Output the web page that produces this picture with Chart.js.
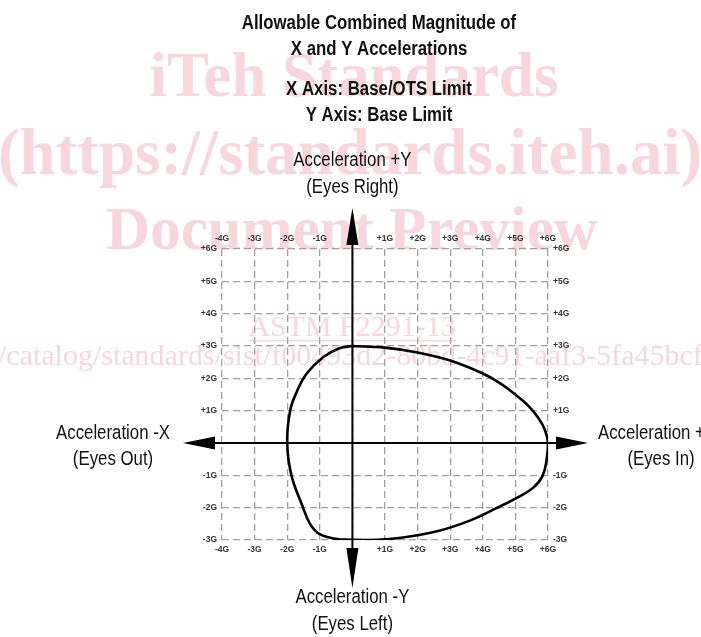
<!DOCTYPE html>
<html>
<head>
<meta charset="utf-8">
<script src="https://cdn.jsdelivr.net/npm/chart.js@4.4.0/dist/chart.umd.min.js"></script>
<style>
html,body{margin:0;padding:0;background:#fff}
</style>
</head>
<body>
<canvas id="chart1" width="701" height="637"></canvas>
<script>
// titles and axis captions
var titleLines = ['Allowable Combined Magnitude of', 'X and Y Accelerations', 'X Axis: Base/OTS Limit', 'Y Axis: Base Limit']
var axisCaptions = {
  top: ['Acceleration +Y', '(Eyes Right)'],
  bottom: ['Acceleration -Y', '(Eyes Left)'],
  left: ['Acceleration -X', '(Eyes Out)'],
  right: ['Acceleration +X', '(Eyes In)']
}
var watermark = ['iTeh Standards', '(https://standards.iteh.ai)', 'Document Preview', 'ASTM F2291-13',
  '/catalog/standards/sist/f00493d2-80bd-4c91-aaf3-5fa45bcf6e3c/astm-f2291-13']

// tick labels (G)
var xTickValues = [-4, -3, -2, -1, 0, 1, 2, 3, 4, 5, 6]
var xTickLabels = ['-4G', '-3G', '-2G', '-1G', '', '+1G', '+2G', '+3G', '+4G', '+5G', '+6G']
var yTickValues = [-3, -2, -1, 0, 1, 2, 3, 4, 5, 6]
var yTickLabels = ['-3G', '-2G', '-1G', '', '+1G', '+2G', '+3G', '+4G', '+5G', '+6G']

// limit envelope, clockwise from the top
var limitX = [0, 1, 2, 3, 4, 4.5, 5, 5.4, 5.7, 5.9, 6.0, 5.96, 5.84, 5.55, 5.0, 4.45, 3.6, 2.6, 1.5, 0.5, -0.4, -1.0, -1.3, -1.55, -1.87, -2.0, -1.91, -1.7, -1.4, -0.9, -0.4, 0]
var limitY = [3.0, 2.95, 2.8, 2.55, 2.15, 1.87, 1.5, 1.15, 0.78, 0.42, 0, -0.5, -1.0, -1.38, -1.72, -2.0, -2.4, -2.73, -2.93, -3.0, -2.98, -2.82, -2.5, -1.9, -1.0, 0, 1.0, 1.6, 2.15, 2.65, 2.93, 3.0]

var points = limitX.map(function (v, i) { return {x: v, y: limitY[i]} })

function tickLabel(values, labels) {
  return function (value) {
    var i = values.indexOf(value)
    return i < 0 ? '' : labels[i]
  }
}

var narrow = 'Liberation Sans, Arial, sans-serif'

function drawLine(ctx, text, x, y, font, scaleX) {
  ctx.save()
  ctx.translate(x, y)
  ctx.scale(scaleX, 1)
  ctx.font = font
  ctx.textAlign = 'center'
  ctx.textBaseline = 'middle'
  ctx.fillText(text, 0, 0)
  ctx.restore()
}

const background = {
  id: 'background',
  beforeDraw(chart) {
    const ctx = chart.ctx
    ctx.save()
    ctx.fillStyle = '#fff'
    ctx.fillRect(0, 0, chart.width, chart.height)
    ctx.fillStyle = '#f7d6de'
    ctx.textBaseline = 'alphabetic'
    ctx.textAlign = 'center'
    ctx.font = 'bold 63px "Liberation Serif", serif'
    ctx.fillText(watermark[0], 354, 96)
    ctx.font = 'bold 65px "Liberation Serif", serif'
    ctx.fillText(watermark[1], 350, 174)
    ctx.font = 'bold 61px "Liberation Serif", serif'
    ctx.fillText(watermark[2], 352, 249)
    ctx.font = '30px "Liberation Serif", serif'
    ctx.fillText(watermark[3], 352, 336)
    var w = ctx.measureText(watermark[3]).width
    ctx.fillRect(352 - w / 2, 340, w, 1.5)
    ctx.textAlign = 'left'
    ctx.fillText(watermark[4], -2, 365)
    ctx.restore()
  }
}

const axesArrows = {
  id: 'axesArrows',
  afterDatasetsDraw(chart) {
    const {ctx, chartArea, scales} = chart
    const x0 = scales.x.getPixelForValue(0)
    const y0 = scales.y.getPixelForValue(0)
    ctx.save()
    ctx.strokeStyle = '#000'
    ctx.fillStyle = '#000'
    ctx.lineWidth = 2
    // horizontal axis
    ctx.beginPath()
    ctx.moveTo(chartArea.left - 10, y0)
    ctx.lineTo(chartArea.right + 10, y0)
    ctx.stroke()
    // vertical axis
    ctx.beginPath()
    ctx.moveTo(x0, chartArea.top - 6)
    ctx.lineTo(x0, chartArea.bottom + 10)
    ctx.stroke()
    // arrow heads
    ctx.beginPath()
    ctx.moveTo(chartArea.left - 39, y0)
    ctx.lineTo(chartArea.left - 7, y0 - 6.5)
    ctx.lineTo(chartArea.left - 7, y0 + 6.5)
    ctx.closePath()
    ctx.fill()
    ctx.beginPath()
    ctx.moveTo(chartArea.right + 40, y0)
    ctx.lineTo(chartArea.right + 8, y0 - 6.5)
    ctx.lineTo(chartArea.right + 8, y0 + 6.5)
    ctx.closePath()
    ctx.fill()
    ctx.beginPath()
    ctx.moveTo(x0, chartArea.top - 41)
    ctx.lineTo(x0 - 6, chartArea.top - 4)
    ctx.lineTo(x0 + 6, chartArea.top - 4)
    ctx.closePath()
    ctx.fill()
    ctx.beginPath()
    ctx.moveTo(x0, chartArea.bottom + 48)
    ctx.lineTo(x0 - 6, chartArea.bottom + 8)
    ctx.lineTo(x0 + 6, chartArea.bottom + 8)
    ctx.closePath()
    ctx.fill()
    ctx.restore()
  },
  afterDraw(chart) {
    const {ctx, chartArea, scales} = chart
    const x0 = scales.x.getPixelForValue(0)
    const y0 = scales.y.getPixelForValue(0)
    ctx.save()
    ctx.fillStyle = '#111'
    var bold = 'bold 20px ' + narrow
    drawLine(ctx, titleLines[0], 379, 23, bold, 0.84)
    drawLine(ctx, titleLines[1], 379, 49, bold, 0.84)
    drawLine(ctx, titleLines[2], 379, 89, bold, 0.84)
    drawLine(ctx, titleLines[3], 379, 115, bold, 0.84)
    var reg = '20px ' + narrow
    drawLine(ctx, axisCaptions.top[0], x0, chartArea.top - 89, reg, 0.84)
    drawLine(ctx, axisCaptions.top[1], x0, chartArea.top - 62, reg, 0.84)
    drawLine(ctx, axisCaptions.bottom[0], x0, chartArea.bottom + 57, reg, 0.84)
    drawLine(ctx, axisCaptions.bottom[1], x0, chartArea.bottom + 84, reg, 0.84)
    drawLine(ctx, axisCaptions.left[0], 113, y0 - 10, reg, 0.84)
    drawLine(ctx, axisCaptions.left[1], 113, y0 + 16, reg, 0.84)
    drawLine(ctx, axisCaptions.right[0], 657, y0 - 10, reg, 0.84)
    drawLine(ctx, axisCaptions.right[1], 661, y0 + 16, reg, 0.84)
    ctx.restore()
  }
}

const tickFont = {size: 8.5, family: narrow, weight: 'bold'}
const gridOpts = {color: '#a0a0a0', lineWidth: 1.3, drawTicks: false}
const borderOpts = {display: false, dash: [7, 4]}

new Chart('chart1', {
  type: 'scatter',
  data: {
    datasets: [{
      data: points,
      showLine: true,
      borderColor: '#000',
      borderWidth: 2.6,
      pointRadius: 0,
      pointHoverRadius: 0,
      tension: 0.4,
      fill: false
    }]
  },
  options: {
    responsive: false,
    animation: false,
    devicePixelRatio: 1,
    layout: {padding: {left: 192, right: 123, top: 234, bottom: 82}},
    plugins: {
      legend: {display: false},
      tooltip: {enabled: false}
    },
    scales: {
      x: {
        type: 'linear', position: 'bottom', min: -4, max: 6,
        grid: gridOpts, border: borderOpts,
        ticks: {stepSize: 1, autoSkip: false, maxRotation: 0, padding: 5, color: '#333', font: tickFont,
          callback: tickLabel(xTickValues, xTickLabels)},
        afterFit(s) { s.height = 15 }
      },
      x2: {
        type: 'linear', axis: 'x', position: 'top', min: -4, max: 6,
        grid: {display: false, drawTicks: false}, border: {display: false},
        ticks: {stepSize: 1, autoSkip: false, maxRotation: 0, padding: 5, color: '#333', font: tickFont,
          callback: tickLabel(xTickValues, xTickLabels)},
        afterFit(s) { s.height = 15 }
      },
      y: {
        type: 'linear', position: 'left', min: -3, max: 6,
        grid: gridOpts, border: borderOpts,
        ticks: {stepSize: 1, autoSkip: false, padding: 5, color: '#333', font: tickFont,
          callback: tickLabel(yTickValues, yTickLabels)},
        afterFit(s) { s.width = 30 }
      },
      y2: {
        type: 'linear', axis: 'y', position: 'right', min: -3, max: 6,
        grid: {display: false, drawTicks: false}, border: {display: false},
        ticks: {stepSize: 1, autoSkip: false, padding: 5, color: '#333', font: tickFont,
          callback: tickLabel(yTickValues, yTickLabels)},
        afterFit(s) { s.width = 30 }
      }
    }
  },
  plugins: [background, axesArrows]
})
</script>
</body>
</html>
